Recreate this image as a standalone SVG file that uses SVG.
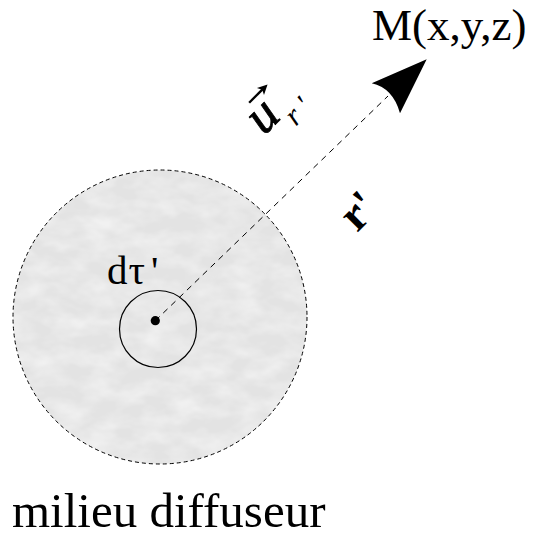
<svg xmlns="http://www.w3.org/2000/svg" width="540" height="539" viewBox="0 0 540 539">
<style>
.t{font-family:"Liberation Serif","Times New Roman",serif;fill:#000}
.dash{fill:none;stroke:#000;stroke-width:1}
</style>
<defs>
<filter id="tex" x="0" y="0" width="100%" height="100%">
<feTurbulence type="fractalNoise" baseFrequency="0.035 0.06" numOctaves="3" seed="7" result="n"/>
<feColorMatrix in="n" type="matrix" values="0 0 0 0 1  0 0 0 0 1  0 0 0 0 1  0.9 0 0 0 -0.3" result="w"/>
<feComposite in="w" in2="SourceGraphic" operator="in"/>
</filter>
</defs>
<rect width="540" height="539" fill="#fff"/>
<g id="medium">
<circle cx="160" cy="317" r="147" fill="#e3e3e3"/>
<circle cx="160" cy="317" r="147" fill="#000" filter="url(#tex)"/>
<circle cx="160" cy="317" r="147" class="dash" stroke-dasharray="4 3"/>
<text class="t" x="12" y="527" font-size="49">milieu diffuseur</text>
</g>
<g id="element">
<circle cx="158" cy="329" r="38.5" fill="none" stroke="#000" stroke-width="1.2"/>
<circle cx="155.3" cy="320.7" r="4.6" fill="#000"/>
<text class="t" x="107" y="284" font-size="41">d<tspan dx="1">τ</tspan><tspan dx="6">'</tspan></text>
</g>
<g id="point-M">
<text class="t" x="372" y="40" font-size="45">M(x,y,z)</text>
</g>
<g id="connectors">
<line x1="155.3" y1="320.7" x2="388" y2="96" class="dash" stroke-dasharray="6 5"/>
<path d="M426.7,59.3 L371.7,83.3 Q393,88 400,113.3 Z" fill="#000"/>
</g>
<g id="labels">
<g transform="translate(357,233) rotate(-45)">
<text class="t" font-weight="bold" font-size="46" x="0" y="0">r'</text>
</g>
<g transform="translate(264,136) rotate(-45)">
<text class="t" font-style="italic" font-size="52" x="0" y="0" stroke="#000" stroke-width="0.8">u</text>
<path d="M13,-34 L34,-34" stroke="#000" stroke-width="2.4" fill="none"/>
<path d="M39,-34 L29,-39 L31.5,-34 L29,-29 Z" fill="#000"/>
<text class="t" font-style="italic" font-size="30" x="29" y="16">r</text>
<text class="t" font-style="italic" font-size="30" x="47" y="16">'</text>
</g>
</g>
</svg>
